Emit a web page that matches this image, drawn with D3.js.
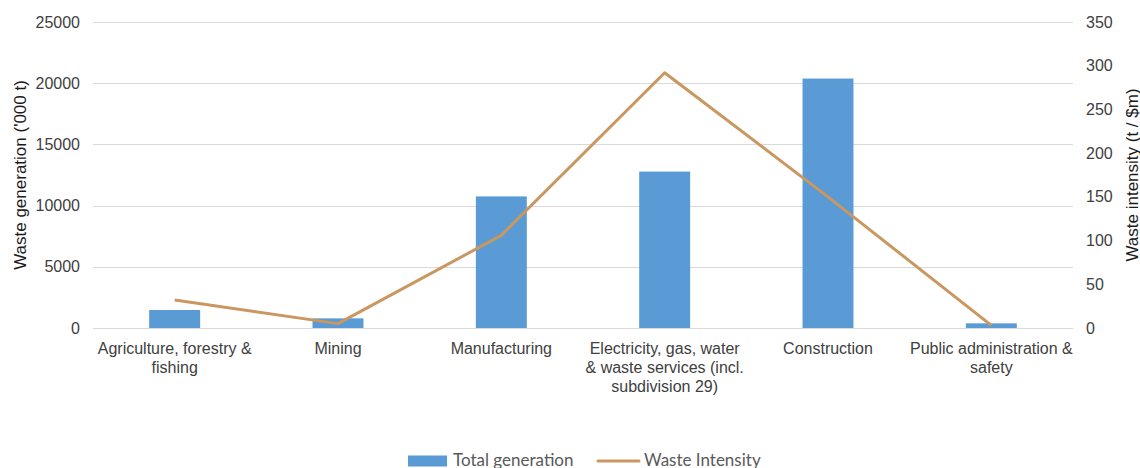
<!DOCTYPE html>
<html>
<head>
<meta charset="utf-8">
<script src="https://cdn.jsdelivr.net/npm/d3@7"></script>
<style>
  html, body { margin: 0; padding: 0; background: #fff; }
  svg { display: block; }
</style>
</head>
<body>
<svg id="chart" width="1140" height="468"></svg>
<script>
// ---- data ----
const categories = [
  "Agriculture, forestry &\nfishing",
  "Mining",
  "Manufacturing",
  "Electricity, gas, water\n& waste services (incl.\nsubdivision 29)",
  "Construction",
  "Public administration &\nsafety"
];
const totalGeneration = [1470, 790, 10750, 12780, 20380, 380];   // '000 t
const wasteIntensity  = [32, 5, 106, 292, 150, 3];               // t / $m
const leftTicks  = [0, 5000, 10000, 15000, 20000, 25000];
const rightTicks = [0, 50, 100, 150, 200, 250, 300, 350];
const seriesNames = ["Total generation", "Waste Intensity"];
const axisTitles = ["Waste generation ('000 t)", "Waste intensity (t / $m)"];

// ---- layout ----
const svg = d3.select("#chart");
const plot = { left: 93, right: 1073, top: 22, bottom: 328 };
const barColor = "#5b9bd5";
const lineColor = "#c9975f";
const gridColor = "#d9d9d9";
const tickColor = "#404040";
const font = "'Liberation Sans', Arial, sans-serif";

const x = d3.scaleBand()
  .domain(d3.range(categories.length))
  .range([plot.left, plot.right])
  .paddingInner(0.688)
  .paddingOuter(0.344);
const yL = d3.scaleLinear().domain([0, 25000]).range([plot.bottom, plot.top]);
const yR = d3.scaleLinear().domain([0, 350]).range([plot.bottom, plot.top]);

// gridlines
svg.append("g").selectAll("line").data(leftTicks).join("line")
  .attr("x1", plot.left).attr("x2", plot.right)
  .attr("y1", d => Math.round(yL(d)) + 0.5).attr("y2", d => Math.round(yL(d)) + 0.5)
  .attr("stroke", gridColor).attr("stroke-width", 1);

// left axis labels
const leftAxis = d3.axisLeft(yL).tickValues(leftTicks).tickSize(0).tickPadding(0).tickFormat(d3.format("d"));
const gL = svg.append("g").attr("transform", `translate(${plot.left - 13},0)`).call(leftAxis);
gL.select(".domain").remove();
gL.selectAll("text").attr("fill", tickColor).style("font-family", font).style("font-size", "16px");

// right axis labels
const rightAxis = d3.axisRight(yR).tickValues(rightTicks).tickSize(0).tickPadding(0).tickFormat(d3.format("d"));
const gR = svg.append("g").attr("transform", `translate(${plot.right + 13},0)`).call(rightAxis);
gR.select(".domain").remove();
gR.selectAll("text").attr("fill", tickColor).style("font-family", font).style("font-size", "16px");

// bars
svg.append("g").selectAll("rect").data(totalGeneration).join("rect")
  .attr("x", (d, i) => x(i))
  .attr("width", x.bandwidth())
  .attr("y", d => yL(d))
  .attr("height", d => yL(0) - yL(d))
  .attr("fill", barColor);

// line
const line = d3.line()
  .x((d, i) => x(i) + x.bandwidth() / 2)
  .y(d => yR(d));
svg.append("path").datum(wasteIntensity)
  .attr("d", line)
  .attr("fill", "none")
  .attr("stroke", lineColor)
  .attr("stroke-width", 3)
  .attr("stroke-linejoin", "round");

// category labels
const catG = svg.append("g");
categories.forEach((c, i) => {
  const t = catG.append("text")
    .attr("x", x(i) + x.bandwidth() / 2)
    .attr("y", 354)
    .attr("text-anchor", "middle")
    .attr("fill", tickColor)
    .style("font-family", font).style("font-size", "16px");
  c.split("\n").forEach((ln, k) => {
    t.append("tspan").attr("x", x(i) + x.bandwidth() / 2).attr("dy", k === 0 ? 0 : 19).text(ln);
  });
});

// axis titles
const midY = (plot.top + plot.bottom) / 2;
svg.append("text")
  .attr("transform", `translate(26,${midY}) rotate(-90)`)
  .attr("text-anchor", "middle")
  .attr("fill", "#1a1a1a")
  .style("font-family", font).style("font-size", "17px")
  .text(axisTitles[0]);
svg.append("text")
  .attr("transform", `translate(1138,${midY}) rotate(-90)`)
  .attr("text-anchor", "middle")
  .attr("fill", "#1a1a1a")
  .style("font-family", font).style("font-size", "17px")
  .text(axisTitles[1]);

// legend
const lg = svg.append("g");
lg.append("rect").attr("x", 408).attr("y", 455.5).attr("width", 39).attr("height", 11).attr("fill", barColor);
lg.append("text").attr("x", 453).attr("y", 466).attr("fill", "#595959")
  .style("font-family", "Lato, 'Open Sans', sans-serif").style("font-size", "17px").text(seriesNames[0]);
lg.append("line").attr("x1", 598).attr("x2", 639).attr("y1", 461).attr("y2", 461)
  .attr("stroke", lineColor).attr("stroke-width", 3).attr("stroke-linecap", "round");
lg.append("text").attr("x", 644).attr("y", 466).attr("fill", "#595959")
  .style("font-family", "Lato, 'Open Sans', sans-serif").style("font-size", "17px").text(seriesNames[1]);
</script>
</body>
</html>
